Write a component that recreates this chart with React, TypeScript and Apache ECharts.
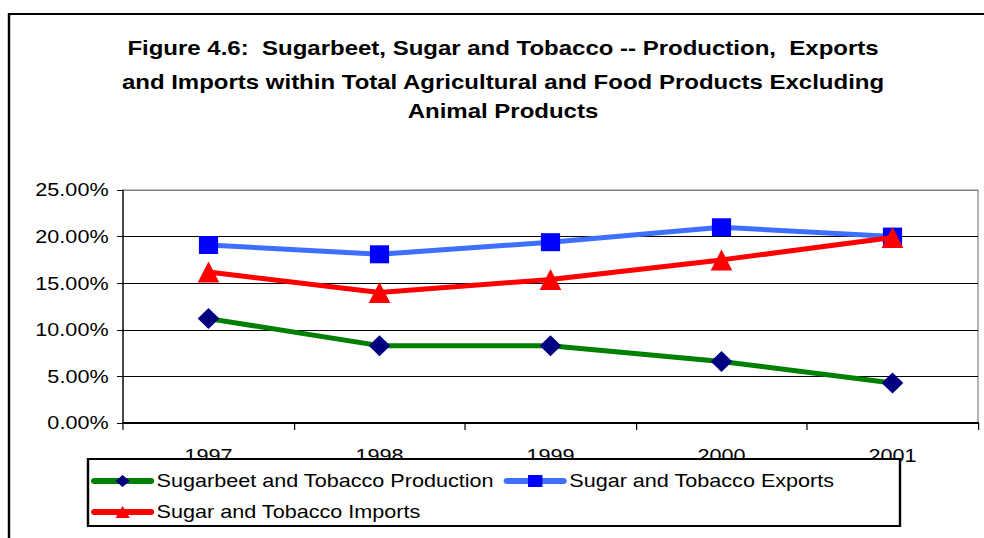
import React, { useEffect, useRef } from "react";
import * as echarts from "echarts";

const years = ["1997", "1998", "1999", "2000", "2001"];
const production = [11.2, 8.3, 8.3, 6.6, 4.3];
const exportsShare = [19.1, 18.1, 19.4, 21.0, 20.0];
const importsShare = [16.2, 14.0, 15.4, 17.5, 19.9];
const titleLines = [
  "Figure 4.6:  Sugarbeet, Sugar and Tobacco -- Production,  Exports",
  "and Imports within Total Agricultural and Food Products Excluding",
  "Animal Products",
];
const seriesNames = [
  "Sugarbeet and Tobacco Production",
  "Sugar and Tobacco Exports",
  "Sugar and Tobacco Imports",
];

const FONT = "'Liberation Sans', Arial, sans-serif";
const SX = 1.2; // the original chart is stretched horizontally
const W = 820;

export default function App() {
  const ref = useRef<HTMLDivElement>(null);
  useEffect(() => {
    document.body.style.margin = "0";
    const chart = echarts.init(ref.current!, null, { renderer: "svg" });
    const titleY = [48, 82, 111];
    const legendCommon = {
      left: 91 / SX,
      orient: "horizontal",
      itemWidth: 56 / SX,
      itemHeight: 15,
      itemGap: 8,
      padding: 0,
      z: 100,
      lineStyle: { width: 6, cap: "round" },
      textStyle: { color: "#000", fontSize: 18, fontFamily: FONT },
    };
    chart.setOption({
      animation: false,
      backgroundColor: "#ffffff",
      textStyle: { fontFamily: FONT },
      grid: {
        left: 123 / SX,
        right: W - 978 / SX,
        top: 190,
        bottom: 115,
        containLabel: false,
        show: true,
        borderColor: "#808080",
        borderWidth: 1,
      },
      xAxis: {
        type: "category",
        data: years,
        boundaryGap: true,
        axisLine: { lineStyle: { color: "#000", width: 2 } },
        axisTick: { show: true, length: 7, lineStyle: { color: "#000", width: 1 } },
        axisLabel: { color: "#000", fontSize: 18, fontFamily: FONT, margin: 24 },
        splitLine: { show: false },
      },
      yAxis: {
        type: "value",
        min: 0,
        max: 25,
        interval: 5,
        axisLine: { show: true, lineStyle: { color: "#000", width: 1 } },
        axisTick: { show: true, length: 5, lineStyle: { color: "#000" } },
        axisLabel: {
          color: "#000",
          fontSize: 18,
          fontFamily: FONT,
          margin: 12,
          formatter: (v: number) => v.toFixed(2) + "%",
        },
        splitLine: {
          show: true,
          lineStyle: { color: ["#000", "#000", "#000", "#000", "#000", "#808080"], width: 1 },
        },
      },
      legend: [
        { ...legendCommon, data: [seriesNames[0], seriesNames[1]], top: 472 },
        { ...legendCommon, data: [seriesNames[2]], top: 503 },
      ],
      graphic: [
        {
          type: "rect",
          z: 0,
          silent: true,
          shape: { x: 9 / SX, y: 14, width: 1000, height: 600 },
          style: { fill: "none", stroke: "#000", lineWidth: 2 },
        },
        {
          type: "rect",
          z: 50,
          silent: true,
          shape: { x: 88 / SX, y: 459, width: 812 / SX, height: 67 },
          style: { fill: "#fff", stroke: "#000", lineWidth: 2 },
        },
        ...titleLines.map((t, i) => ({
          type: "text",
          x: 503 / SX,
          y: titleY[i],
          silent: true,
          style: {
            text: t,
            fill: "#000",
            font: `bold 20px ${FONT}`,
            textAlign: "center",
            textVerticalAlign: "middle",
          },
        })),
      ],
      series: [
        {
          name: seriesNames[0],
          type: "line",
          data: production,
          symbol: "diamond",
          symbolSize: [18, 21],
          lineStyle: { color: "#008000", width: 5 },
          itemStyle: { color: "#000080" },
          z: 3,
        },
        {
          name: seriesNames[1],
          type: "line",
          data: exportsShare,
          symbol: "rect",
          symbolSize: [16, 18],
          lineStyle: { color: "#3F6FFF", width: 5 },
          itemStyle: { color: "#0000FF" },
          z: 3,
        },
        {
          name: seriesNames[2],
          type: "line",
          data: importsShare,
          symbol: "triangle",
          symbolSize: [18, 21],
          lineStyle: { color: "#FF0000", width: 5 },
          itemStyle: { color: "#FF0000" },
          z: 4,
        },
      ],
    });
    return () => chart.dispose();
  }, []);
  return (
    <div
      ref={ref}
      style={{ width: W, height: 538, transform: `scaleX(${SX})`, transformOrigin: "0 0" }}
    />
  );
}
